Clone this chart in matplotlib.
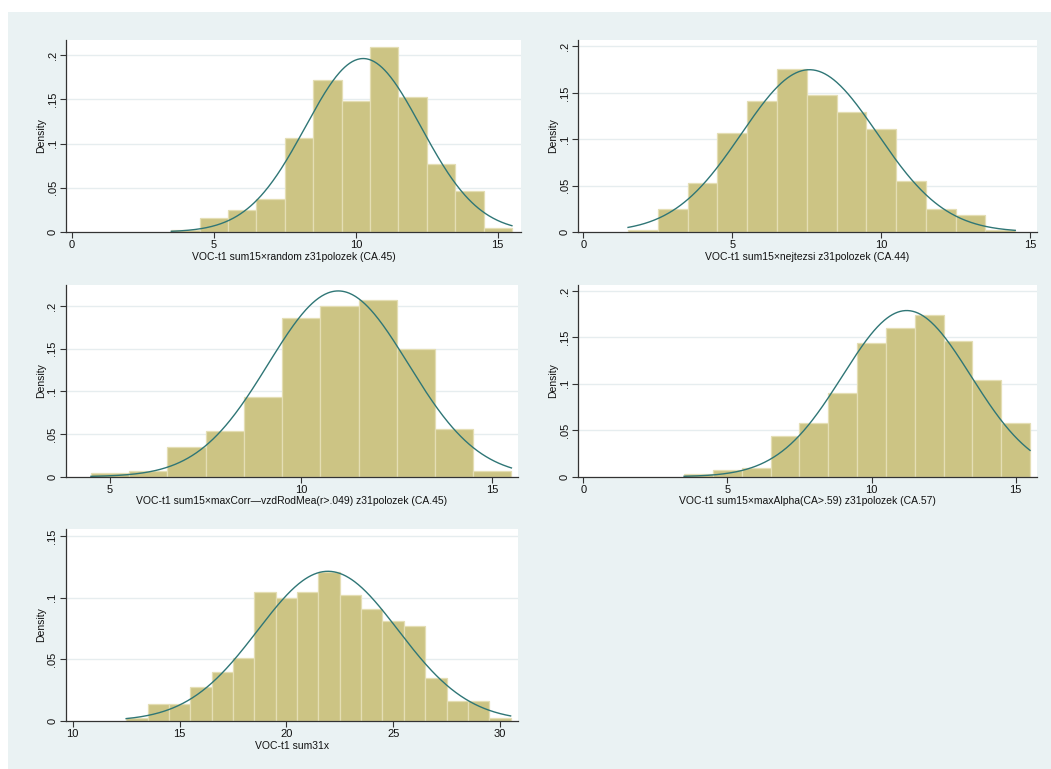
import numpy as np
import matplotlib
matplotlib.use("Agg")
import matplotlib.pyplot as plt
from matplotlib.patches import Rectangle

plt.rcParams['font.family'] = ['Liberation Sans', 'DejaVu Sans']

# ---------------- data ----------------
p1_centers = [4, 5, 6, 7, 8, 9, 10, 11, 12, 13, 14, 15]
p1_density = [0.0023, 0.0158, 0.0249, 0.0369, 0.1066, 0.1718, 0.148, 0.2087, 0.1529, 0.0765, 0.0463, 0.0045]
p1_mu, p1_sd = 10.26, 2.035
p1_label = "VOC-t1 sum15\u00d7random z31polozek (CA.45)"

p2_centers = [2, 3, 4, 5, 6, 7, 8, 9, 10, 11, 12, 13, 14]
p2_density = [0.0022, 0.0248, 0.0529, 0.1065, 0.1414, 0.1759, 0.1478, 0.1295, 0.1112, 0.055, 0.0248, 0.0183, 0.002]
p2_mu, p2_sd = 7.59, 2.28
p2_label = "VOC-t1 sum15\u00d7nejtezsi z31polozek (CA.44)"

p3_centers = [5, 6, 7, 8, 9, 10, 11, 12, 13, 14, 15]
p3_density = [0.0043, 0.0066, 0.0348, 0.0535, 0.0934, 0.186, 0.2, 0.207, 0.150, 0.0555, 0.0066]
p3_mu, p3_sd = 10.97, 1.833
p3_label = "VOC-t1 sum15\u00d7maxCorr\u2014vzdRodMea(r>.049) z31polozek (CA.45)"

p4_centers = [4, 5, 6, 7, 8, 9, 10, 11, 12, 13, 14, 15]
p4_density = [0.0029, 0.0068, 0.009, 0.0438, 0.0578, 0.0905, 0.144, 0.160, 0.174, 0.146, 0.104, 0.0578]
p4_mu, p4_sd = 11.22, 2.229
p4_label = "VOC-t1 sum15\u00d7maxAlpha(CA>.59) z31polozek (CA.57)"

p5_centers = [13, 14, 15, 16, 17, 18, 19, 20, 21, 22, 23, 24, 25, 26, 27, 28, 29, 30]
p5_density = [0.0022, 0.0138, 0.0138, 0.0276, 0.0395, 0.0511, 0.1046, 0.0997, 0.1046, 0.1208,
              0.1022, 0.0908, 0.0814, 0.0768, 0.0349, 0.0162, 0.0162, 0.0022]
p5_mu, p5_sd = 21.95, 3.286
p5_label = "VOC-t1 sum31x"

y_ticks_a = [0, 0.05, 0.1, 0.15, 0.2]
y_ticks_b = [0, 0.05, 0.1, 0.15]
y_tick_labels_a = ["0", ".05", ".1", ".15", ".2"]
y_tick_labels_b = ["0", ".05", ".1", ".15"]

# ---------------- style ----------------
W, H = 1051, 769
BG = '#EAF2F3'
BAR = '#CCC484'
BAR_EDGE = '#E4DEB4'
CURVE = '#2F7676'
GRID = '#E6EDEF'
AXC = '#333333'

fig = plt.figure(figsize=(W / 100, H / 100), dpi=100)
fig.patch.set_facecolor('white')
fig.add_artist(Rectangle((8 / W, 0), 1 - 8 / W, 1 - 12 / H, transform=fig.transFigure,
                         facecolor=BG, edgecolor='none', zorder=0))


def make_ax(left, right, top, bottom):
    return fig.add_axes([left / W, 1 - bottom / H, (right - left) / W, (bottom - top) / H])


panels = [
    dict(box=(66, 521, 40, 232), c=p1_centers, d=p1_density, mu=p1_mu, sd=p1_sd, lab=p1_label,
         xlim=(-0.21, 15.82), ylim=(0, 0.217), xt=[0, 5, 10, 15], yt=y_ticks_a, ytl=y_tick_labels_a),
    dict(box=(578.3, 1036.7, 40, 232), c=p2_centers, d=p2_density, mu=p2_mu, sd=p2_sd, lab=p2_label,
         xlim=(-0.17, 15.22), ylim=(0, 0.207), xt=[0, 5, 10, 15], yt=y_ticks_a, ytl=y_tick_labels_a),
    dict(box=(65.7, 518.3, 285, 476.7), c=p3_centers, d=p3_density, mu=p3_mu, sd=p3_sd, lab=p3_label,
         xlim=(3.84, 15.68), ylim=(0, 0.2246), xt=[5, 10, 15], yt=y_ticks_a, ytl=y_tick_labels_a),
    dict(box=(578.3, 1036.7, 285, 476.7), c=p4_centers, d=p4_density, mu=p4_mu, sd=p4_sd, lab=p4_label,
         xlim=(-0.17, 15.73), ylim=(0, 0.2065), xt=[0, 5, 10, 15], yt=y_ticks_a, ytl=y_tick_labels_a),
    dict(box=(65.7, 518.3, 529, 721), c=p5_centers, d=p5_density, mu=p5_mu, sd=p5_sd, lab=p5_label,
         xlim=(9.67, 30.86), ylim=(0, 0.1557), xt=[10, 15, 20, 25, 30], yt=y_ticks_b, ytl=y_tick_labels_b),
]

for p in panels:
    ax = make_ax(*p['box'])
    ax.set_facecolor('white')
    c = np.array(p['c'], dtype=float)
    ax.bar(c, p['d'], width=1.0, align='center', color=BAR, edgecolor=BAR_EDGE,
           linewidth=0.9, zorder=2)
    lo, hi = c[0] - 0.5, c[-1] + 0.5
    xs = np.linspace(lo, hi, 400)
    ys = np.exp(-0.5 * ((xs - p['mu']) / p['sd']) ** 2) / (p['sd'] * np.sqrt(2 * np.pi))
    ax.plot(xs, ys, color=CURVE, linewidth=1.0, zorder=3)
    ax.set_xlim(*p['xlim'])
    ax.set_ylim(*p['ylim'])
    ax.set_xticks(p['xt'])
    ax.set_xticklabels([str(v) for v in p['xt']])
    ax.set_yticks(p['yt'])
    ax.set_yticklabels(p['ytl'], rotation=90, va='center')
    for t in p['yt']:
        if t > 0:
            ax.axhline(t, color=GRID, linewidth=1.0, zorder=1)
    for s in ['top', 'right']:
        ax.spines[s].set_visible(False)
    for s in ['left', 'bottom']:
        ax.spines[s].set_color(AXC)
        ax.spines[s].set_linewidth(0.9)
        ax.spines[s].set_zorder(4)
    ax.tick_params(axis='both', direction='out', length=4, width=0.8, color=AXC,
                   labelsize=8, labelcolor='#111111', pad=2)
    ax.set_xlabel(p['lab'], fontsize=7.5, labelpad=1, color='#111111')
    ax.set_ylabel('Density', fontsize=7.5, labelpad=1, color='#111111')

fig.savefig('out.png', dpi=100, facecolor=fig.get_facecolor())
